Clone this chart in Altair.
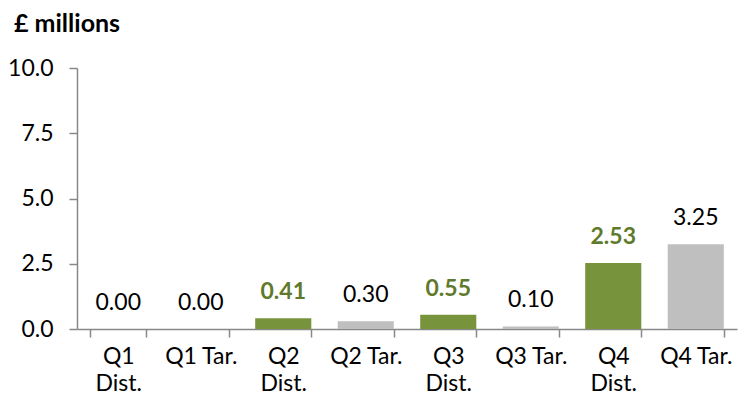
import altair as alt
import pandas as pd

categories = ["Q1 Dist.", "Q1 Tar.", "Q2 Dist.", "Q2 Tar.", "Q3 Dist.", "Q3 Tar.", "Q4 Dist.", "Q4 Tar."]
values = [0.00, 0.00, 0.41, 0.30, 0.55, 0.10, 2.53, 3.25]
kinds = ["Dist", "Tar", "Dist", "Tar", "Dist", "Tar", "Dist", "Tar"]
y_ticks = [0, 2.5, 5, 7.5, 10]

df = pd.DataFrame({"cat": categories, "value": values, "kind": kinds})
df["label"] = df["value"].map(lambda v: f"{v:.2f}")
df["hl"] = (df["kind"] == "Dist") & (df["value"] > 0)

FONT = "Lato"
FS = 23
GREEN = "#77933C"
TEXTGREEN = "#5F7A2C"
GREY = "#BFBFBF"

x = alt.X("cat:N", sort=categories, title=None,
          scale=alt.Scale(paddingInner=0.32, paddingOuter=0.16),
          axis=alt.Axis(labelAngle=0,
                        labelExpr="indexof(datum.label, 'Dist') >= 0 ? split(datum.label, ' ') : datum.label",
                        tickBand="extent", labelFontSize=FS, labelFont=FONT,
                        labelColor="#000", labelLineHeight=27, labelPadding=8,
                        domainColor="#888", tickColor="#888", tickSize=8,
                        domainWidth=1.5, tickWidth=1.5))
y = alt.Y("value:Q", title=None,
          scale=alt.Scale(domain=[0, 10], nice=False),
          axis=alt.Axis(values=y_ticks, format=".1f", grid=False,
                        labelFontSize=FS, labelFont=FONT, labelColor="#000",
                        labelPadding=16, domainColor="#888", tickColor="#888",
                        tickSize=8, domainWidth=1.5, tickWidth=1.5))

bars = alt.Chart(df).mark_bar().encode(
    x=x, y=y,
    color=alt.Color("kind:N", scale=alt.Scale(domain=["Dist", "Tar"], range=[GREEN, GREY]), legend=None),
)

text_plain = alt.Chart(df).transform_filter("!datum.hl").mark_text(
    baseline="bottom", dy=-14, fontSize=FS, font=FONT, color="#000"
).encode(
    x=alt.X("cat:N", sort=categories),
    y=alt.Y("value:Q"),
    text="label:N",
)

text_hl = alt.Chart(df).transform_filter("datum.hl").mark_text(
    baseline="bottom", dy=-14, fontSize=FS, font=FONT, color=TEXTGREEN, fontWeight="bold"
).encode(
    x=alt.X("cat:N", sort=categories),
    y=alt.Y("value:Q"),
    text="label:N",
)

chart = (bars + text_plain + text_hl).properties(
    width=660, height=261,
    title=alt.TitleParams("£ millions", anchor="start", frame="group", dx=-63, offset=20,
                          fontSize=25, font=FONT, fontWeight="bold", color="#000"),
    autosize=alt.AutoSizeParams(type="none"),
    padding={"left": 77, "top": 68, "right": 1, "bottom": 82},
).configure_view(stroke=None)

chart.save("out.html", embed_options={"renderer": "svg", "actions": False})
